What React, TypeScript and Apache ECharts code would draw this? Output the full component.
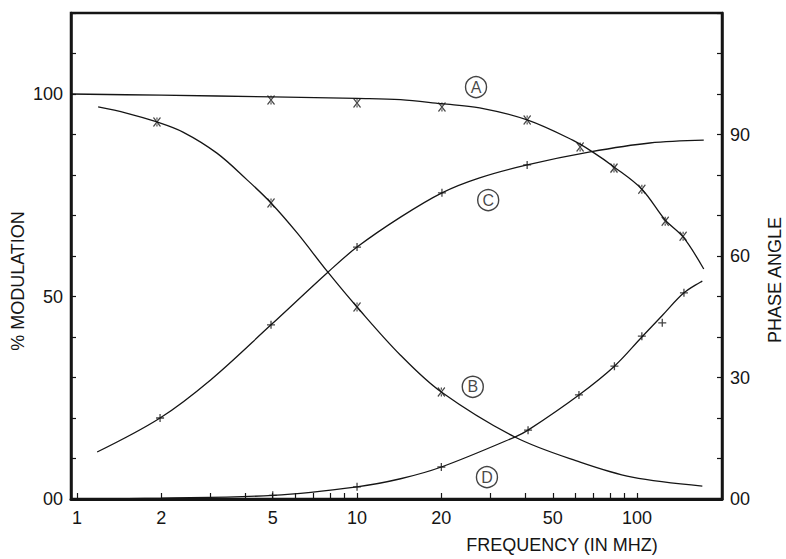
import React, { useEffect, useRef } from "react";
import * as echarts from "echarts";

const L = (v: number) => Math.log10(v);

// x axis (frequency, MHz) ticks and labels
const xTickFreqs = [1, 2, 3, 4, 5, 6, 7, 8, 9, 10, 20, 30, 40, 50, 60, 70, 80, 90, 100];
const xLabelFreqs = [1, 2, 5, 10, 20, 50, 100];
const xMinFreq = 0.952;
const xMaxFreq = 201;
const leftLabels = [0, 50, 100];
const rightLabels = [0, 30, 60, 90];

// curve A (% modulation)
const curveA = [
  [0.95, 100], [2, 99.7], [5, 99.3], [10, 98.9], [14.3, 98.6], [20, 97.6], [27.4, 96.6],
  [40.5, 93.6], [58.9, 88.6], [69.3, 85.7], [82.7, 82.0], [104, 76.5], [126, 68.9],
  [146, 64.7], [173, 56.8],
];
const marksA = [
  [4.93, 98.5], [10, 97.8], [20.1, 96.8], [40.5, 93.6], [62.6, 86.9], [82.7, 81.7],
  [104, 76.5], [126, 68.6], [146, 64.9],
];

// curve B (% modulation)
const curveB = [
  [1.19, 96.8], [1.5, 95.3], [1.93, 93.1], [2.39, 90.6], [3.16, 85.4], [4.05, 78.8],
  [4.93, 73.1], [6.11, 65.7], [7.87, 56.0], [10, 47.4], [14.3, 35.5], [20, 26.4],
  [36.6, 15.3], [62.6, 9.1], [96, 5.4], [171, 3.2],
];
const marksB = [[1.93, 93.1], [4.93, 73.1], [10, 47.4], [20, 26.4]];

// curve C (phase angle)
const curveC = [
  [1.18, 11.6], [1.98, 20.0], [3, 29.4], [4.93, 43.0], [7.87, 56.0], [10, 62.2],
  [14.3, 69.6], [20.1, 75.6], [27.4, 79.3], [40.5, 82.5], [68, 85.7], [111, 87.9],
  [173, 88.6],
];
const marksC = [[1.98, 20.0], [4.93, 43.0], [10, 62.2], [20.1, 75.6], [40.5, 82.5]];

// curve D (phase angle)
const curveD = [
  [1.0, 0], [2, 0.2], [5, 0.9], [10, 3.0], [14.3, 5.0], [20, 7.9], [36.6, 15.3],
  [40.8, 17.0], [62, 25.7], [83, 32.8], [104, 40.0], [123, 45.3], [147, 50.9], [171, 53.8],
];
const marksD = [
  [5, 0.9], [10, 3.0], [20, 7.9], [40.8, 17.0], [62, 25.7], [83, 32.8], [104, 40.2],
  [123, 43.5], [147, 50.9],
];

// circled curve labels
const curveNames = ["A", "B", "C", "D"];
const curveNamePos = [[26.6, 101.7], [25.9, 27.7], [29.4, 73.8], [29.1, 5.4]];

const INK = "#151515";
const FONT = '"Liberation Sans", Arial, sans-serif';

const toXY = (arr: number[][]) => arr.map(([f, v]) => [L(f), v]);

const X_MARK = "path://M0,0L10,12M10,0L0,12M5,0L5,3M5,9L5,12";
const PLUS_MARK = "path://M5,0L5,10M0,5L10,5";

export default function App() {
  const ref = useRef<HTMLDivElement>(null);

  useEffect(() => {
    if (!ref.current) return;
    const chart = echarts.init(ref.current, undefined, { renderer: "svg" });

    const lineSeries = (data: number[][], yAxisIndex: number) => ({
      type: "line",
      yAxisIndex,
      data: toXY(data),
      showSymbol: false,
      smooth: 0.35,
      lineStyle: { color: INK, width: 1.3 },
      z: 3,
    });
    const markSeries = (data: number[][], yAxisIndex: number, symbol: string, size: number[]) => ({
      type: "scatter",
      yAxisIndex,
      data: toXY(data),
      symbol,
      symbolSize: size,
      itemStyle: { color: "transparent", borderColor: INK, borderWidth: 1.3 },
      z: 4,
    });

    const yAxisBase = {
      type: "value",
      min: 0,
      max: 120,
      interval: 10,
      splitLine: { show: false },
      axisLine: { show: true, onZero: false, lineStyle: { color: INK, width: 2.5 } },
      axisTick: { show: true, inside: true, length: 5, lineStyle: { color: INK, width: 1.2 } },
    };

    chart.setOption({
      animation: false,
      backgroundColor: "#ffffff",
      grid: {
        left: 71,
        right: 64,
        top: 13,
        bottom: 60,
        show: true,
        borderColor: INK,
        borderWidth: 2.5,
      },
      xAxis: {
        type: "value",
        min: L(xMinFreq),
        max: L(xMaxFreq),
        splitLine: { show: false },
        axisLine: { show: true, onZero: false, lineStyle: { color: INK, width: 3 } },
        axisTick: {
          show: true,
          inside: true,
          length: 6,
          customValues: xTickFreqs.map(L),
          lineStyle: { color: INK, width: 1.2 },
        },
        axisLabel: {
          customValues: xLabelFreqs.map(L),
          formatter: (v: number) => String(Math.round(Math.pow(10, v))),
          margin: 10,
          fontSize: 18,
          fontFamily: FONT,
          color: INK,
        },
      },
      yAxis: [
        {
          ...yAxisBase,
          position: "left",
          axisLabel: {
            margin: 8,
            fontSize: 18,
            fontFamily: FONT,
            color: INK,
            formatter: (v: number) =>
              leftLabels.includes(v) ? (v === 0 ? "00" : String(v)) : "",
          },
        },
        {
          ...yAxisBase,
          position: "right",
          axisLabel: {
            margin: 8,
            fontSize: 18,
            fontFamily: FONT,
            color: INK,
            formatter: (v: number) =>
              rightLabels.includes(v) ? (v === 0 ? "00" : String(v)) : "",
          },
        },
      ],
      series: [
        lineSeries(curveA, 0),
        lineSeries(curveB, 0),
        lineSeries(curveC, 1),
        lineSeries(curveD, 1),
        markSeries(marksA, 0, X_MARK, [7, 9]),
        markSeries(marksB, 0, X_MARK, [7, 9]),
        markSeries(marksC, 1, PLUS_MARK, [8, 8]),
        markSeries(marksD, 1, PLUS_MARK, [8, 8]),
        {
          type: "scatter",
          yAxisIndex: 0,
          data: curveNames.map((n, i) => ({
            name: n,
            value: [L(curveNamePos[i][0]), curveNamePos[i][1]],
          })),
          symbol: "circle",
          symbolSize: 21,
          itemStyle: { color: "#ffffff", borderColor: INK, borderWidth: 1.4 },
          label: {
            show: true,
            position: "inside",
            formatter: "{b}",
            fontSize: 16,
            fontFamily: FONT,
            color: INK,
          },
          z: 5,
        },
      ],
      graphic: [
        {
          type: "text",
          x: 18,
          y: 281,
          rotation: Math.PI / 2,
          style: {
            text: "% MODULATION",
            fontSize: 18,
            fontFamily: FONT,
            fill: INK,
            align: "center",
            verticalAlign: "middle",
          },
        },
        {
          type: "text",
          x: 775,
          y: 280,
          rotation: Math.PI / 2,
          style: {
            text: "PHASE ANGLE",
            fontSize: 18,
            fontFamily: FONT,
            fill: INK,
            align: "center",
            verticalAlign: "middle",
          },
        },
        {
          type: "text",
          x: 562,
          y: 545,
          style: {
            text: "FREQUENCY (IN MHZ)",
            fontSize: 18,
            fontFamily: FONT,
            fill: INK,
            align: "center",
            verticalAlign: "middle",
          },
        },
      ],
    });

    return () => chart.dispose();
  }, []);

  return (
    <div
      ref={ref}
      style={{ position: "fixed", left: 0, top: 0, width: 786, height: 559, background: "#fff" }}
    />
  );
}
